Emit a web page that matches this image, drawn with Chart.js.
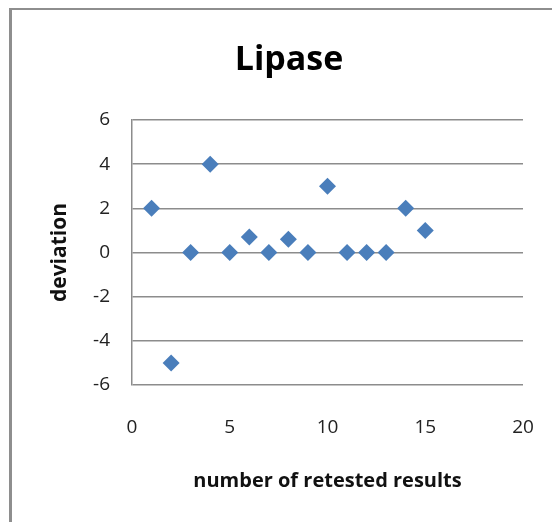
<!DOCTYPE html>
<html>
<head>
<meta charset="utf-8">
<script src="https://cdn.jsdelivr.net/npm/chart.js@4.4.0/dist/chart.umd.min.js"></script>
<style>
  html, body { margin: 0; padding: 0; background: #fff; }
  #wrap { position: relative; width: 552px; height: 522px; overflow: hidden; }
  #frame { position: absolute; left: 9px; top: 8px; width: 600px; height: 600px;
           border-left: 3px solid #8e8e8e; border-top: 2px solid #8e8e8e; box-sizing: border-box; }
  #myChart { position: absolute; left: 0; top: 0; }
</style>
</head>
<body>
<div id="wrap">
  <div id="frame"></div>
  <canvas id="myChart" width="552" height="522"></canvas>
</div>
<script>
const chartTitle = 'Lipase';
const xTitle = 'number of retested results';
const yTitle = 'deviation';

const retestNumber = [1, 2, 3, 4, 5, 6, 7, 8, 9, 10, 11, 12, 13, 14, 15];
const deviation = [2, -5, 0, 4, 0, 0.7, 0, 0.6, 0, 3, 0, 0, 0, 2, 1];

const xTicks = [0, 5, 10, 15, 20];
const yTicks = [-6, -4, -2, 0, 2, 4, 6];

const fontFam = '"Open Sans", sans-serif';
const gridColor = '#8c8c8c';

// title drawn by hand so it can sit off the plot centre like the excel one
const titlePlugin = {
  id: 'lipaseTitle',
  afterDraw(chart) {
    let ctx = chart.ctx;
    ctx.save();
    ctx.font = 'bold 34px ' + fontFam;
    ctx.fillStyle = '#000';
    ctx.textAlign = 'center';
    ctx.textBaseline = 'middle';
    ctx.fillText(chartTitle, 289, 60);
    ctx.restore();
  }
};

let points = retestNumber.map((x, i) => ({x: x, y: deviation[i]}));

var ctx = document.getElementById('myChart');
var myChart = new Chart(ctx, {
  type: 'scatter',
  data: {
    datasets: [{
      label: chartTitle,
      data: points,
      pointStyle: 'rectRot',
      pointRadius: 8.5,
      pointHoverRadius: 8.5,
      backgroundColor: '#4a7ebb',
      borderColor: '#4a7ebb',
      borderWidth: 0
    }]
  },
  options: {
    responsive: false,
    animation: false,
    layout: { padding: { left: 0, right: 29, top: 120, bottom: 0 } },
    plugins: {
      legend: { display: false },
      tooltip: { enabled: false }
    },
    scales: {
      x: {
        type: 'linear',
        min: 0,
        max: 20,
        afterBuildTicks: (axis) => { axis.ticks = xTicks.map(v => ({value: v})); },
        afterFit: (axis) => {
          axis.height = 137;
          // tick padding gets added to the side padding, drop it
          axis.paddingRight = 12;
          axis.paddingLeft = 12;
        },
        grid: { display: false, drawTicks: false },
        border: { display: false },
        ticks: { padding: 31, color: '#222', font: { family: fontFam, size: 19 } },
        title: {
          display: true,
          text: xTitle,
          color: '#111',
          font: { family: fontFam, size: 20, weight: 'bold' },
          padding: 29
        }
      },
      y: {
        type: 'linear',
        min: -6,
        max: 6,
        afterBuildTicks: (axis) => { axis.ticks = yTicks.map(v => ({value: v})); },
        afterFit: (axis) => { axis.width = 132; },
        grid: { color: gridColor, lineWidth: 1.5, drawTicks: false },
        border: { display: true, color: gridColor, width: 1.5 },
        ticks: { padding: 22, color: '#222', font: { family: fontFam, size: 19 } },
        title: {
          display: true,
          text: yTitle,
          color: '#111',
          font: { family: fontFam, size: 21, weight: 'bold' },
          padding: { top: 47, bottom: 0 }
        }
      }
    }
  },
  plugins: [titlePlugin]
});
</script>
</body>
</html>
